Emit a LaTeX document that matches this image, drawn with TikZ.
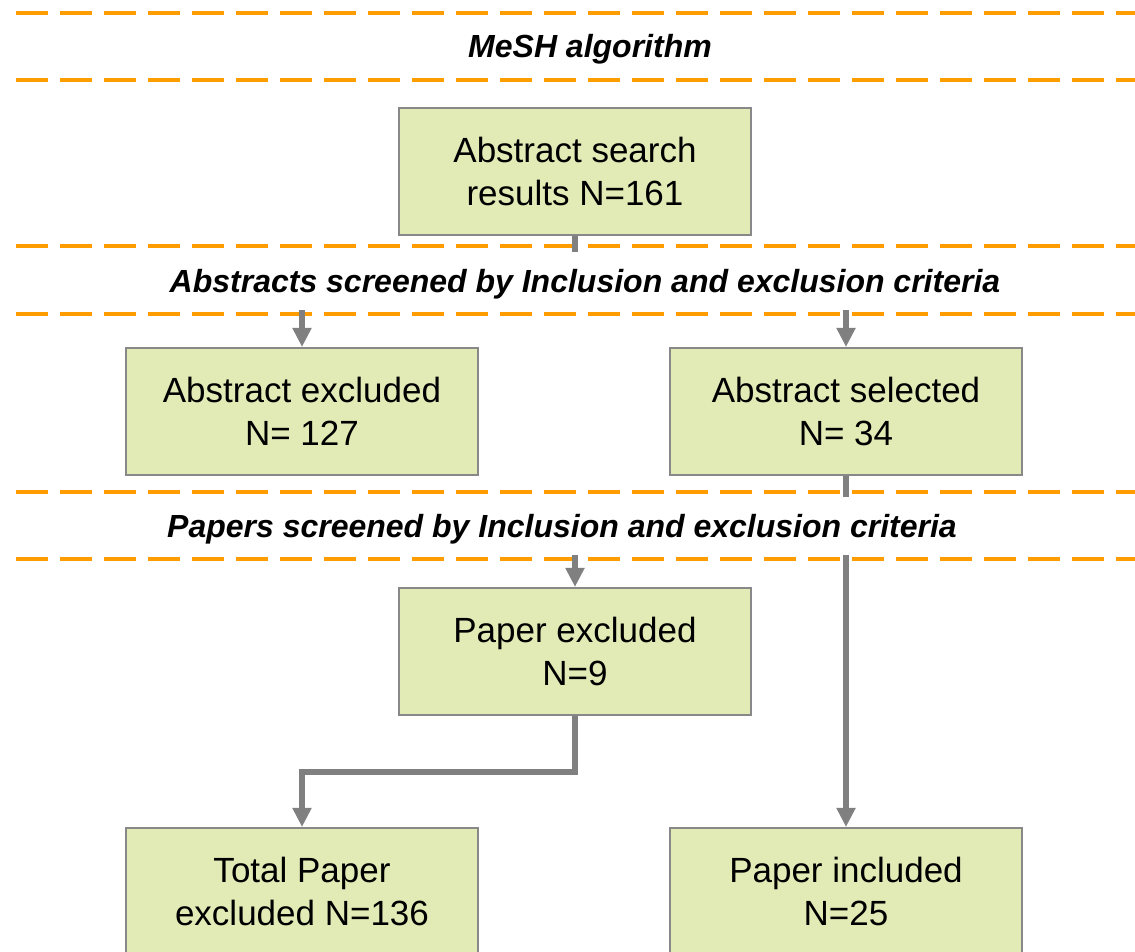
\documentclass[tikz,border=0pt]{standalone}
\usepackage{fontspec}
\setmainfont{Liberation Sans}
\usetikzlibrary{arrows.meta, calc}

\definecolor{boxfill}{RGB}{226,234,181}
\definecolor{boxline}{RGB}{136,136,136}
\definecolor{linkgray}{RGB}{128,128,128}
\definecolor{bandorange}{RGB}{255,157,0}

\tikzset{
  flowbox/.style={draw=boxline, line width=2pt, fill=boxfill,
    minimum width=352pt, minimum height=127pt, inner sep=0pt,
    align=center, font=\fontsize{35}{43}\selectfont},
  link/.style={draw=linkgray, line width=5.5pt, -{Triangle[width=18pt,length=19pt]}},
  bandline/.style={draw=bandorange, line width=4pt, dash pattern=on 32pt off 12pt},
  bandtext/.style={font=\fontsize{32}{38}\selectfont\bfseries\itshape},
}

\begin{document}
\begin{tikzpicture}[x=1pt, y=1pt]
\useasboundingbox (0,0) rectangle (1135,952);
% dashed separators
\foreach \yy in {939,872,706,638,460,393} \draw[bandline] (16,\yy)--(1135,\yy);
% boxes
\node[flowbox] (search) at (575,780.5) {Abstract search\\results N=161};
\node[flowbox] (absexcl) at (302,540.5) {Abstract excluded\\N= 127};
\node[flowbox] (abssel) at (846,540.5) {Abstract selected\\N= 34};
\node[flowbox] (papexcl) at (575,300.5) {Paper excluded\\N=9};
\node[flowbox] (totexcl) at (302,60.5) {Total Paper\\excluded N=136};
\node[flowbox] (papincl) at (846,60.5) {Paper included\\N=25};
% connectors
\draw[link] (search.south) -- ++(0,-46) -| (absexcl.north);
\draw[link] (search.south) -- ++(0,-46) -| (abssel.north);
\draw[link] (abssel.south) -- ++(0,-53) -| (papexcl.north);
\draw[link] (abssel.south) -- (papincl.north);
\draw[link] (papexcl.south) -- ++(0,-56) -| (totexcl.north);
% bands hide the connectors
\fill[white] (0,642) rectangle (1135,700);
\fill[white] (0,397) rectangle (1135,455);
\node[bandtext] (mesh) at (590,903) {MeSH algorithm};
\node[bandtext] (absscreen) at (585,668) {Abstracts screened by Inclusion and exclusion criteria};
\node[bandtext] (papscreen) at (562,423) {Papers screened by Inclusion and exclusion criteria};
\end{tikzpicture}
\end{document}
